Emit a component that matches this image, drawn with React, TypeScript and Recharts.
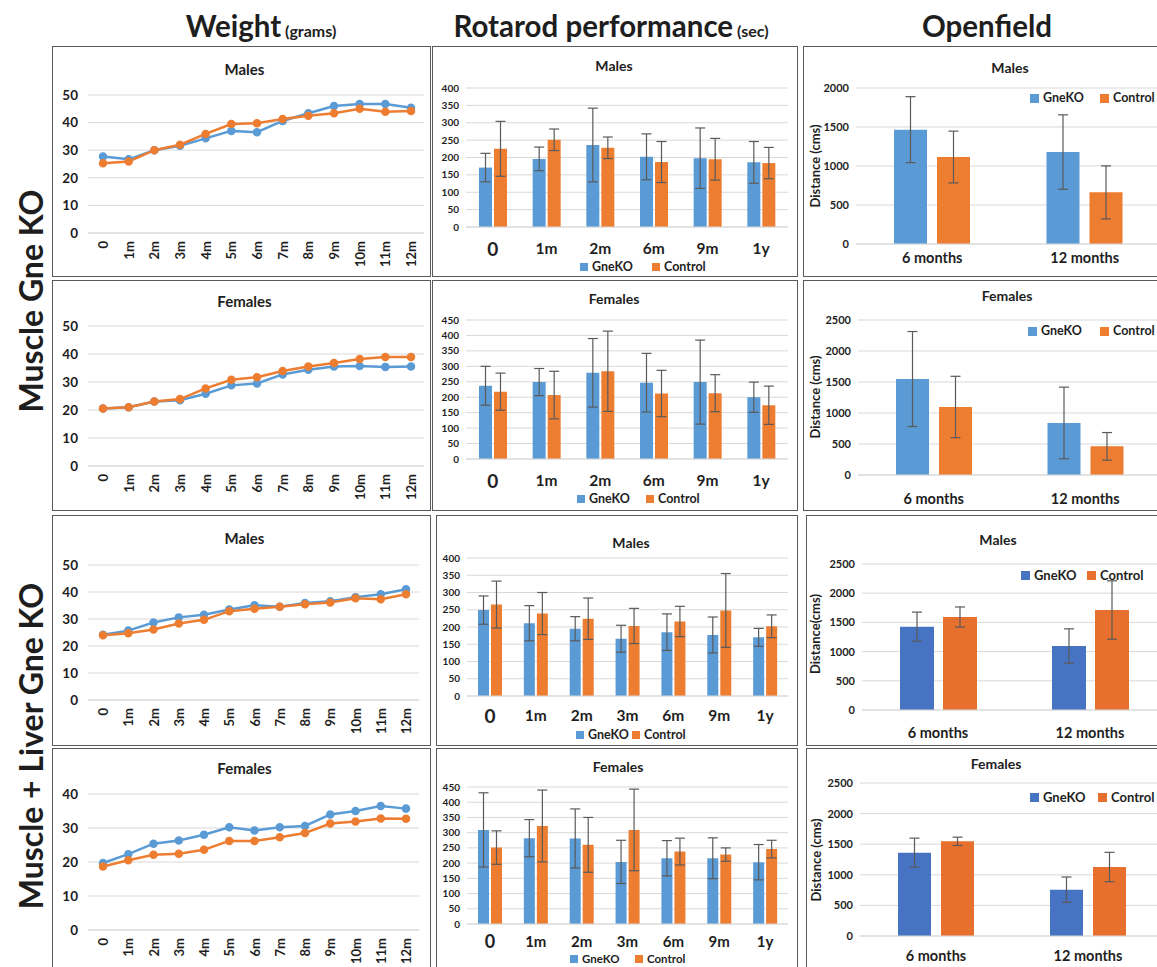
import React from 'react';
import { LineChart, Line, BarChart, Bar, ErrorBar, XAxis, YAxis, CartesianGrid } from 'recharts';

const FONT = 'Lato, "Open Sans", sans-serif';
const INK = '#1e1e1e';
const GRID = '#d9d9d9';
const BLUE = '#5b9bd5';
const ORANGE = '#ed7d31';
const BLUE_DARK = '#4673c2';
const ORANGE_DARK = '#e8702e';
const ERR = '#5a5a5a';

// ---- weight (grams) ----
const months = ['0', '1m', '2m', '3m', '4m', '5m', '6m', '7m', '8m', '9m', '10m', '11m', '12m'];
const mgkoMaleWeightKO = [27.7, 26.7, 30.0, 31.6, 34.3, 37.0, 36.5, 40.6, 43.4, 46.0, 46.7, 46.7, 45.4];
const mgkoMaleWeightCtl = [25.3, 25.9, 30.0, 32.0, 35.9, 39.5, 39.8, 41.3, 42.5, 43.4, 45.0, 43.9, 44.2];
const mgkoFemaleWeightKO = [20.5, 21.0, 23.0, 23.5, 25.8, 28.8, 29.5, 32.7, 34.4, 35.5, 35.7, 35.4, 35.5];
const mgkoFemaleWeightCtl = [20.5, 21.0, 23.0, 23.9, 27.7, 30.8, 31.7, 33.9, 35.5, 36.8, 38.2, 38.9, 38.9];
const mlgkoMaleWeightKO = [24.2, 25.7, 28.7, 30.6, 31.6, 33.5, 35.1, 34.5, 35.9, 36.6, 38.1, 39.2, 41.0];
const mlgkoMaleWeightCtl = [24.0, 24.7, 26.1, 28.3, 29.7, 32.9, 33.8, 34.5, 35.5, 36.1, 37.7, 37.3, 39.2];
const mlgkoFemaleWeightKO = [19.7, 22.3, 25.4, 26.3, 28.0, 30.2, 29.3, 30.2, 30.6, 34.0, 35.0, 36.5, 35.7];
const mlgkoFemaleWeightCtl = [18.7, 20.5, 22.1, 22.4, 23.6, 26.2, 26.2, 27.3, 28.5, 31.3, 31.9, 32.8, 32.7];
const weightTicks50 = [0, 10, 20, 30, 40, 50];
const weightTicks40 = [0, 10, 20, 30, 40];

// ---- rotarod (sec) ----
const rotaStagesMgko = ['0', '1m', '2m', '6m', '9m', '1y'];
const rotaStagesMlgko = ['0', '1m', '2m', '3m', '6m', '9m', '1y'];
const mgkoMaleRotaKO = [171, 196, 236, 202, 198, 186];
const mgkoMaleRotaKOErr = [41, 34, 106, 66, 87, 60];
const mgkoMaleRotaCtl = [225, 251, 228, 187, 195, 184];
const mgkoMaleRotaCtlErr = [79, 31, 31, 59, 60, 45];
const mgkoFemaleRotaKO = [237, 249, 279, 247, 249, 200];
const mgkoFemaleRotaKOErr = [63, 44, 111, 95, 136, 49];
const mgkoFemaleRotaCtl = [218, 207, 284, 212, 213, 174];
const mgkoFemaleRotaCtlErr = [60, 77, 130, 75, 60, 62];
const mlgkoMaleRotaKO = [249, 211, 195, 166, 185, 177, 170];
const mlgkoMaleRotaKOErr = [41, 51, 35, 39, 53, 52, 26];
const mlgkoMaleRotaCtl = [265, 239, 224, 203, 216, 248, 202];
const mlgkoMaleRotaCtlErr = [68, 61, 60, 51, 44, 107, 33];
const mlgkoFemaleRotaKO = [309, 282, 281, 204, 216, 216, 203];
const mlgkoFemaleRotaKOErr = [122, 61, 97, 71, 58, 67, 58];
const mlgkoFemaleRotaCtl = [251, 322, 260, 309, 238, 228, 246];
const mlgkoFemaleRotaCtlErr = [55, 118, 90, 134, 44, 22, 29];
const rotaTicks400 = [0, 50, 100, 150, 200, 250, 300, 350, 400];
const rotaTicks450 = [0, 50, 100, 150, 200, 250, 300, 350, 400, 450];

// ---- openfield distance (cms) ----
const ofAges = ['6 months', '12 months'];
const mgkoMaleOfKO = [1466, 1179];
const mgkoMaleOfKOErr = [423, 477];
const mgkoMaleOfCtl = [1115, 662];
const mgkoMaleOfCtlErr = [332, 340];
const mgkoFemaleOfKO = [1548, 839];
const mgkoFemaleOfKOErr = [766, 578];
const mgkoFemaleOfCtl = [1097, 462];
const mgkoFemaleOfCtlErr = [495, 223];
const mlgkoMaleOfKO = [1427, 1096];
const mlgkoMaleOfKOErr = [249, 294];
const mlgkoMaleOfCtl = [1592, 1712];
const mlgkoMaleOfCtlErr = [172, 500];
const mlgkoFemaleOfKO = [1362, 757];
const mlgkoFemaleOfKOErr = [237, 207];
const mlgkoFemaleOfCtl = [1547, 1127];
const mlgkoFemaleOfCtlErr = [68, 240];
const ofTicks2000 = [0, 500, 1000, 1500, 2000];
const ofTicks2500 = [0, 500, 1000, 1500, 2000, 2500];

type Box = { x: number; y: number; w: number; h: number };
type Plot = { top: number; bottom: number; left: number; right: number };

const abs = (x: number, y: number): React.CSSProperties => ({ position: 'absolute', left: x, top: y });

const Frame = ({ box }: { box: Box }) => (
  <div
    style={{
      ...abs(box.x, box.y),
      width: box.w,
      height: box.h,
      border: '1.5px solid #5a5a5a',
      boxSizing: 'border-box',
      background: '#fff',
    }}
  />
);

const Title = ({ text, cx, cy, size }: { text: string; cx: number; cy: number; size: number }) => (
  <div
    style={{
      ...abs(cx - 100, cy - 12),
      width: 200,
      height: 24,
      lineHeight: '24px',
      textAlign: 'center',
      fontFamily: FONT,
      fontWeight: 700,
      fontSize: size,
      color: INK,
    }}
  >
    {text}
  </div>
);

const Legend = ({ x, y, x2, size, sq, colors }: { x: number; y: number; x2: number; size: number; sq: number; colors: string[] }) => {
  const item = (left: number, color: string, label: string) => (
    <div style={{ ...abs(left, y - 7), height: 14, display: 'flex', alignItems: 'center', whiteSpace: 'nowrap' }}>
      <span style={{ width: sq, height: sq, background: color, marginRight: 4, display: 'inline-block' }} />
      <span style={{ fontFamily: FONT, fontWeight: 700, fontSize: size, color: INK, lineHeight: '14px' }}>{label}</span>
    </div>
  );
  return (
    <>
      {item(x, colors[0], 'GneKO')}
      {item(x2, colors[1], 'Control')}
    </>
  );
};

const YLabel = ({ text, cx, cy }: { text: string; cx: number; cy: number }) => (
  <div
    style={{
      ...abs(cx - 80, cy - 9),
      width: 160,
      height: 18,
      lineHeight: '18px',
      textAlign: 'center',
      transform: 'rotate(-90deg)',
      fontFamily: FONT,
      fontWeight: 700,
      fontSize: 13,
      color: INK,
    }}
  >
    {text}
  </div>
);

const RotTick = (props: any) => {
  const { x, y, payload } = props;
  const ty = y + 8;
  return (
    <text
      x={x}
      y={ty}
      transform={`rotate(-90 ${x} ${ty})`}
      textAnchor="end"
      dominantBaseline="central"
      fontFamily={FONT}
      fontWeight={700}
      fontSize={13}
      fill={INK}
    >
      {payload.value}
    </text>
  );
};

const catTick = (dy: number, size: number, firstSize?: number) => (props: any) => {
  const { x, y, payload, index } = props;
  const fs = index === 0 && firstSize ? firstSize : size;
  return (
    <text
      x={x}
      y={y + dy}
      textAnchor="middle"
      dominantBaseline="central"
      fontFamily={FONT}
      fontWeight={700}
      fontSize={fs}
      fill={INK}
    >
      {payload.value}
    </text>
  );
};

type WeightProps = {
  box: Box;
  plot: Plot;
  title: string;
  titleY: number;
  ko: number[];
  ctl: number[];
  ticks: number[];
};

const WeightPanel = ({ box, plot, title, titleY, ko, ctl, ticks }: WeightProps) => {
  const data = months.map((m, i) => ({ m, ko: ko[i], ctl: ctl[i] }));
  const width = plot.right - box.x + 4;
  return (
    <>
      <Frame box={box} />
      <div style={abs(box.x, box.y)}>
        <LineChart
          width={width}
          height={box.h}
          data={data}
          margin={{ top: plot.top - box.y, right: 4, left: 0, bottom: 0 }}
        >
          <CartesianGrid vertical={false} stroke={GRID} />
          <XAxis
            dataKey="m"
            interval={0}
            height={box.h - (plot.bottom - box.y)}
            axisLine={{ stroke: GRID }}
            tickLine={false}
            tickSize={0}
            tickMargin={0}
            padding={{ left: 15, right: 13 }}
            tick={RotTick}
          />
          <YAxis
            domain={[0, ticks[ticks.length - 1]]}
            ticks={ticks}
            interval={0}
            width={plot.left - box.x}
            axisLine={false}
            tickLine={false}
            tickSize={0}
            tickMargin={10}
            tick={{ fontFamily: FONT, fontWeight: 700, fontSize: 13.5, fill: INK }}
          />
          <Line dataKey="ko" stroke={BLUE} strokeWidth={2.5} dot={{ r: 3, fill: BLUE, stroke: BLUE }} isAnimationActive={false} />
          <Line dataKey="ctl" stroke={ORANGE} strokeWidth={2.5} dot={{ r: 3, fill: ORANGE, stroke: ORANGE }} isAnimationActive={false} />
        </LineChart>
      </div>
      <Title text={title} cx={box.x + box.w / 2 + 3} cy={titleY} size={15} />
    </>
  );
};

type BarProps = {
  box: Box;
  plot: Plot;
  cats: string[];
  ko: number[];
  koErr: number[];
  ctl: number[];
  ctlErr: number[];
  ticks: number[];
  barSize: number;
  barGap: number;
  labelDy: number;
  labelSize: number;
  firstSize?: number;
  yTickSize: number;
  colors: string[];
};

const BarPanel = (p: BarProps) => {
  const data = p.cats.map((c, i) => ({ c, ko: p.ko[i], koErr: p.koErr[i], ctl: p.ctl[i], ctlErr: p.ctlErr[i] }));
  const width = p.plot.right - p.box.x + 2;
  return (
    <div style={abs(p.box.x, p.box.y)}>
      <BarChart
        width={width}
        height={p.box.h}
        data={data}
        barSize={p.barSize}
        barGap={p.barGap}
        margin={{ top: p.plot.top - p.box.y, right: 2, left: 0, bottom: 0 }}
      >
        <CartesianGrid vertical={false} stroke={GRID} />
        <XAxis
          dataKey="c"
          interval={0}
          height={p.box.h - (p.plot.bottom - p.box.y)}
          axisLine={{ stroke: GRID }}
          tickLine={false}
          tickSize={0}
          tickMargin={0}
          tick={catTick(p.labelDy, p.labelSize, p.firstSize)}
        />
        <YAxis
          domain={[0, p.ticks[p.ticks.length - 1]]}
          ticks={p.ticks}
          interval={0}
          allowDataOverflow
          width={p.plot.left - p.box.x}
          axisLine={false}
          tickLine={false}
          tickSize={0}
          tickMargin={7}
          tick={{ fontFamily: FONT, fontWeight: 700, fontSize: p.yTickSize, fill: INK }}
        />
        <Bar dataKey="ko" fill={p.colors[0]} isAnimationActive={false}>
          <ErrorBar dataKey="koErr" width={5} stroke={ERR} strokeWidth={1.2} />
        </Bar>
        <Bar dataKey="ctl" fill={p.colors[1]} isAnimationActive={false}>
          <ErrorBar dataKey="ctlErr" width={5} stroke={ERR} strokeWidth={1.2} />
        </Bar>
      </BarChart>
    </div>
  );
};

const Header = ({ main, small, cx }: { main: string; small?: string; cx: number }) => (
  <div
    style={{
      ...abs(cx - 250, 7),
      width: 500,
      height: 38,
      lineHeight: '38px',
      textAlign: 'center',
      fontFamily: FONT,
      fontWeight: 700,
      fontSize: 29.5,
      color: INK,
      whiteSpace: 'nowrap',
    }}
  >
    {main}
    {small ? <span style={{ fontSize: 16 }}> {small}</span> : null}
  </div>
);

const RowLabel = ({ text, cx, cy }: { text: string; cx: number; cy: number }) => (
  <div
    style={{
      ...abs(cx - 250, cy - 20),
      width: 500,
      height: 40,
      lineHeight: '40px',
      textAlign: 'center',
      transform: 'rotate(-90deg)',
      fontFamily: FONT,
      fontWeight: 700,
      fontSize: 32,
      color: INK,
      whiteSpace: 'nowrap',
    }}
  >
    {text}
  </div>
);

const App: React.FC = () => {
  // box geometry per row
  const wBoxes: Box[] = [
    { x: 52, y: 46, w: 379, h: 231 },
    { x: 52, y: 280, w: 379, h: 231 },
    { x: 52, y: 515, w: 379, h: 231 },
    { x: 52, y: 748, w: 379, h: 230 },
  ];
  const rBoxes: Box[] = [
    { x: 432, y: 46, w: 366, h: 231 },
    { x: 432, y: 280, w: 366, h: 231 },
    { x: 436, y: 515, w: 362, h: 231 },
    { x: 436, y: 748, w: 362, h: 230 },
  ];
  const oBoxes: Box[] = [
    { x: 803, y: 46, w: 370, h: 231 },
    { x: 803, y: 280, w: 370, h: 231 },
    { x: 806, y: 515, w: 367, h: 231 },
    { x: 806, y: 748, w: 367, h: 230 },
  ];

  return (
    <div style={{ position: 'absolute', left: 0, top: 0, width: 1157, height: 967, overflow: 'hidden', background: '#fff' }}>
      <Header main="Weight" small="(grams)" cx={261} />
      <Header main="Rotarod performance" small="(sec)" cx={611} />
      <Header main="Openfield" cx={987} />
      <RowLabel text="Muscle Gne KO" cx={31} cy={301} />
      <RowLabel text="Muscle + Liver Gne KO" cx={31} cy={746} />

      {/* weight */}
      <WeightPanel box={wBoxes[0]} plot={{ top: 95, bottom: 233, left: 88, right: 424 }} title="Males" titleY={69} ko={mgkoMaleWeightKO} ctl={mgkoMaleWeightCtl} ticks={weightTicks50} />
      <WeightPanel box={wBoxes[1]} plot={{ top: 326, bottom: 466, left: 88, right: 424 }} title="Females" titleY={301} ko={mgkoFemaleWeightKO} ctl={mgkoFemaleWeightCtl} ticks={weightTicks50} />
      <WeightPanel box={wBoxes[2]} plot={{ top: 565, bottom: 700, left: 88, right: 419 }} title="Males" titleY={538} ko={mlgkoMaleWeightKO} ctl={mlgkoMaleWeightCtl} ticks={weightTicks50} />
      <WeightPanel box={wBoxes[3]} plot={{ top: 794, bottom: 930, left: 88, right: 419 }} title="Females" titleY={768} ko={mlgkoFemaleWeightKO} ctl={mlgkoFemaleWeightCtl} ticks={weightTicks40} />

      {/* rotarod */}
      <Frame box={rBoxes[0]} />
      <BarPanel box={rBoxes[0]} plot={{ top: 88, bottom: 227, left: 466, right: 788 }} cats={rotaStagesMgko}
        ko={mgkoMaleRotaKO} koErr={mgkoMaleRotaKOErr} ctl={mgkoMaleRotaCtl} ctlErr={mgkoMaleRotaCtlErr}
        ticks={rotaTicks400} barSize={13} barGap={2} labelDy={21} labelSize={15.5} firstSize={19} yTickSize={10} colors={[BLUE, ORANGE]} />
      <Title text="Males" cx={614} cy={66} size={14} />
      <Legend x={580} x2={652} y={267} size={12.5} sq={8} colors={[BLUE, ORANGE]} />

      <Frame box={rBoxes[1]} />
      <BarPanel box={rBoxes[1]} plot={{ top: 320, bottom: 459, left: 466, right: 788 }} cats={rotaStagesMgko}
        ko={mgkoFemaleRotaKO} koErr={mgkoFemaleRotaKOErr} ctl={mgkoFemaleRotaCtl} ctlErr={mgkoFemaleRotaCtlErr}
        ticks={rotaTicks450} barSize={13} barGap={2} labelDy={21} labelSize={15.5} firstSize={19} yTickSize={10} colors={[BLUE, ORANGE]} />
      <Title text="Females" cx={614} cy={299} size={14} />
      <Legend x={577} x2={646} y={499} size={12.5} sq={8} colors={[BLUE, ORANGE]} />

      <Frame box={rBoxes[2]} />
      <BarPanel box={rBoxes[2]} plot={{ top: 558, bottom: 696, left: 467, right: 788 }} cats={rotaStagesMlgko}
        ko={mlgkoMaleRotaKO} koErr={mlgkoMaleRotaKOErr} ctl={mlgkoMaleRotaCtl} ctlErr={mlgkoMaleRotaCtlErr}
        ticks={rotaTicks400} barSize={11} barGap={2} labelDy={19} labelSize={15.5} firstSize={19} yTickSize={10} colors={[BLUE, ORANGE]} />
      <Title text="Males" cx={631} cy={543} size={14} />
      <Legend x={576} x2={632} y={735} size={12.5} sq={8} colors={[BLUE, ORANGE]} />

      <Frame box={rBoxes[3]} />
      <BarPanel box={rBoxes[3]} plot={{ top: 787, bottom: 924, left: 467, right: 788 }} cats={rotaStagesMlgko}
        ko={mlgkoFemaleRotaKO} koErr={mlgkoFemaleRotaKOErr} ctl={mlgkoFemaleRotaCtl} ctlErr={mlgkoFemaleRotaCtlErr}
        ticks={rotaTicks450} barSize={11} barGap={2} labelDy={17} labelSize={15} firstSize={18} yTickSize={10} colors={[BLUE, ORANGE]} />
      <Title text="Females" cx={618} cy={767} size={14} />
      <Legend x={570} x2={635} y={959} size={11.5} sq={8} colors={[BLUE, ORANGE]} />

      {/* openfield */}
      <Frame box={oBoxes[0]} />
      <BarPanel box={oBoxes[0]} plot={{ top: 88, bottom: 244, left: 856, right: 1161 }} cats={ofAges}
        ko={mgkoMaleOfKO} koErr={mgkoMaleOfKOErr} ctl={mgkoMaleOfCtl} ctlErr={mgkoMaleOfCtlErr}
        ticks={ofTicks2000} barSize={33} barGap={10} labelDy={13} labelSize={14.5} yTickSize={11} colors={[BLUE, ORANGE]} />
      <Title text="Males" cx={1010} cy={68} size={14} />
      <YLabel text="Distance (cms)" cx={815} cy={166} />
      <Legend x={1030} x2={1100} y={98} size={12.5} sq={9} colors={[BLUE, ORANGE]} />

      <Frame box={oBoxes[1]} />
      <BarPanel box={oBoxes[1]} plot={{ top: 320, bottom: 475, left: 858, right: 1161 }} cats={ofAges}
        ko={mgkoFemaleOfKO} koErr={mgkoFemaleOfKOErr} ctl={mgkoFemaleOfCtl} ctlErr={mgkoFemaleOfCtlErr}
        ticks={ofTicks2500} barSize={33} barGap={10} labelDy={23} labelSize={14.5} yTickSize={11} colors={[BLUE, ORANGE]} />
      <Title text="Females" cx={1007} cy={296} size={14} />
      <YLabel text="Distance (cms)" cx={815} cy={397} />
      <Legend x={1028} x2={1100} y={331} size={12.5} sq={9} colors={[BLUE, ORANGE]} />

      <Frame box={oBoxes[2]} />
      <BarPanel box={oBoxes[2]} plot={{ top: 564, bottom: 710, left: 862, right: 1166 }} cats={ofAges}
        ko={mlgkoMaleOfKO} koErr={mlgkoMaleOfKOErr} ctl={mlgkoMaleOfCtl} ctlErr={mlgkoMaleOfCtlErr}
        ticks={ofTicks2500} barSize={34} barGap={9} labelDy={22} labelSize={14.5} yTickSize={11} colors={[BLUE_DARK, ORANGE_DARK]} />
      <Title text="Males" cx={998} cy={540} size={14} />
      <YLabel text="Distance(cms)" cx={815} cy={634} />
      <Legend x={1021} x2={1087} y={575} size={13} sq={9} colors={[BLUE_DARK, ORANGE_DARK]} />

      <Frame box={oBoxes[3]} />
      <BarPanel box={oBoxes[3]} plot={{ top: 783, bottom: 936, left: 860, right: 1164 }} cats={ofAges}
        ko={mlgkoFemaleOfKO} koErr={mlgkoFemaleOfKOErr} ctl={mlgkoFemaleOfCtl} ctlErr={mlgkoFemaleOfCtlErr}
        ticks={ofTicks2500} barSize={33} barGap={10} labelDy={19} labelSize={14.5} yTickSize={11} colors={[BLUE_DARK, ORANGE_DARK]} />
      <Title text="Females" cx={996} cy={764} size={14} />
      <YLabel text="Distance (cms)" cx={816} cy={860} />
      <Legend x={1030} x2={1098} y={797} size={13} sq={9} colors={[BLUE_DARK, ORANGE_DARK]} />
    </div>
  );
};

export default App;
